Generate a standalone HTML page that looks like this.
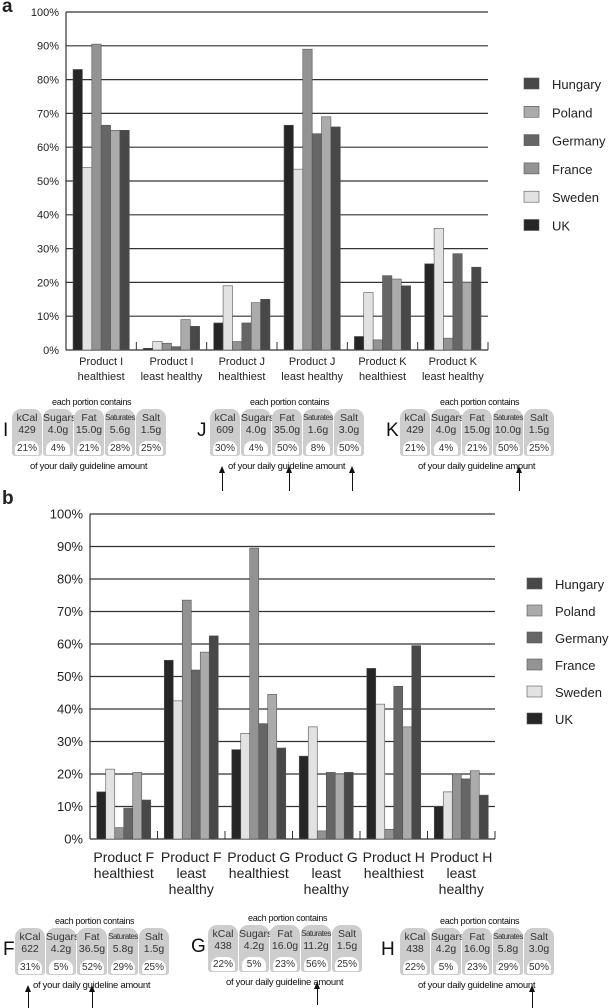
<!DOCTYPE html>
<html><head><meta charset="utf-8">
<style>
body{margin:0;width:609px;height:993px;background:#fff;font-family:"Liberation Sans",sans-serif;overflow:hidden;position:relative}
svg{position:absolute;left:0;top:0}
.lab{position:absolute;font-family:"Liberation Sans",sans-serif;color:#222}
.cell{position:absolute;background:#cdcdcd;border-radius:9px 9px 3px 3px;text-align:center;font-size:10.5px;line-height:12px;color:#333}
.pct{position:absolute;left:3px;right:3px;bottom:1px;height:14px;background:#fff;border-radius:8px 8px 2px 2px;font-size:10px;line-height:15px}
.cap{position:absolute;font-size:9px;color:#111;letter-spacing:-0.3px;white-space:nowrap}
.big{position:absolute;font-size:19px;color:#111}
.arrow{position:absolute;width:1px;background:#111}
.arrow:before{content:"";position:absolute;left:-3px;top:-5px;border-left:3.5px solid transparent;border-right:3.5px solid transparent;border-bottom:7px solid #111}
</style></head><body>
<div class="lab" style="left:2px;top:-4px;font-size:19px;font-weight:bold">a</div>
<div class="lab" style="left:2px;top:488px;font-size:19px;font-weight:bold">b</div>
<svg id="chart" width="609" height="993"></svg>
<div id="labels"></div>
<script>
const seriesNames=["UK","Sweden","France","Germany","Poland","Hungary"];
const seriesColors=["#262626","#e2e2e2","#939393","#666666","#ababab","#484848"];
const legendOrder=["Hungary","Poland","Germany","France","Sweden","UK"];
const catsA=[["Product I","healthiest"],["Product I","least healthy"],["Product J","healthiest"],["Product J","least healthy"],["Product K","healthiest"],["Product K","least healthy"]];
const uk_A=[83,0.5,8,66.5,4,25.5];
const sweden_A=[54,2.5,19,53.5,17,36];
const france_A=[90.5,2,2.5,89,3,3.5];
const germany_A=[66.5,1,8,64,22,28.5];
const poland_A=[65,9,14,69,21,20];
const hungary_A=[65,7,15,66,19,24.5];
const catsB=[["Product F","healthiest"],["Product F","least","healthy"],["Product G","healthiest"],["Product G","least","healthy"],["Product H","healthiest"],["Product H","least","healthy"]];
const uk_B=[14.5,55,27.5,25.5,52.5,10];
const sweden_B=[21.5,42.5,32.5,34.5,41.5,14.5];
const france_B=[3.5,73.5,89.5,2.5,3,20];
const germany_B=[9.5,52,35.5,20.5,47,18.5];
const poland_B=[20.5,57.5,44.5,20,34.5,21];
const hungary_B=[12,62.5,28,20.5,59.5,13.5];
const ticks=[0,10,20,30,40,50,60,70,80,90,100];

const NS="http://www.w3.org/2000/svg";
const svg=document.getElementById("chart");
function mk(tag,attrs,parent){const e=document.createElementNS(NS,tag);for(const k in attrs)e.setAttribute(k,attrs[k]);(parent||svg).appendChild(e);return e;}

function drawChart(cfg){
  const {x0,x1,y0,y1,cats,series,fs,xfs,tickX,labY,lineH,legX,legY,legStep,legFs,prefix}=cfg;
  const g=mk("g",{});
  
  
  const ys=v=>y0-(v/100)*(y0-y1);
  const gw=(x1-x0)/cats.length;
  const pad=gw*0.1, bw=(gw-2*pad)/6;
  ticks.forEach(t=>{
    const l=mk("line",{x1:x0,x2:x1,y1:ys(t),y2:ys(t),stroke:"#333","stroke-width":1.2},g);
    
    
    const tx=mk("text",{x:tickX,y:ys(t)+fs*0.35,"text-anchor":"end","font-size":fs,fill:"#222","font-family":"Liberation Sans"},g);
    tx.textContent=t+"%";
    
    
  });
  const ax=mk("line",{x1:x0,x2:x0,y1:y1,y2:y0,stroke:"#333","stroke-width":1.2},g);
  
  
  for(let i=1;i<=cats.length;i++){
    const t=mk("line",{x1:x0+i*gw,x2:x0+i*gw,y1:y0,y2:y0-8,stroke:"#333","stroke-width":1},g);
    
    
  }
  cats.forEach((c,ci)=>{
    series.forEach((s,si)=>{
      const v=s[ci];
      const r=mk("rect",{x:x0+ci*gw+pad+si*bw,y:ys(v),width:bw,height:y0-ys(v),fill:seriesColors[si],stroke:"#555","stroke-width":0.6},g);
      
      
    });
    c.forEach((line,li)=>{
      const t=mk("text",{x:x0+ci*gw+gw/2,y:labY+li*lineH,"text-anchor":"middle","font-size":xfs,fill:"#222","font-family":"Liberation Sans"},g);
      t.textContent=line;
      
      
    });
  });
  legendOrder.forEach((n,i)=>{
    const si=seriesNames.indexOf(n);
    const r=mk("rect",{x:legX,y:legY+i*legStep-6,width:15,height:11,fill:seriesColors[si],stroke:"#555","stroke-width":0.6},g);
    
    
    const t=mk("text",{x:legX+28,y:legY+i*legStep+5,"font-size":legFs,fill:"#222","font-family":"Liberation Sans"},g);
    t.textContent=n;
    
    
  });
}
drawChart({x0:66,x1:488,y0:350,y1:12,cats:catsA,series:[uk_A,sweden_A,france_A,germany_A,poland_A,hungary_A],fs:11,xfs:11,tickX:59,labY:365,lineH:15,legX:524,legY:84,legStep:28.3,legFs:13,prefix:"a"});
drawChart({x0:90,x1:495,y0:839,y1:514,cats:catsB,series:[uk_B,sweden_B,france_B,germany_B,poland_B,hungary_B],fs:13,xfs:14,tickX:83,labY:862,lineH:16,legX:527,legY:584,legStep:27,legFs:13,prefix:"b"});

const labelLetters=["I","J","K","F","G","H"];
const labelVals=[["429","4.0g","15.0g","5.6g","1.5g"],["609","4.0g","35.0g","1.6g","3.0g"],["429","4.0g","15.0g","10.0g","1.5g"],["622","4.2g","36.5g","5.8g","1.5g"],["438","4.2g","16.0g","11.2g","1.5g"],["438","4.2g","16.0g","5.8g","3.0g"]];
const labelPcts=[["21%","4%","21%","28%","25%"],["30%","4%","50%","8%","50%"],["21%","4%","21%","50%","25%"],["31%","5%","52%","29%","25%"],["22%","5%","23%","56%","25%"],["22%","5%","23%","29%","50%"]];
const heads=["kCal","Sugars","Fat","Saturates","Salt"];
const boxX=[12,210,400,15,208,400];
const boxY=[409,409,409,928,925,928];
const letterX=[3,197,386,3,191,381];
const arrows=[[],[222,289,352],[519],[28,92],[317],[532]];
const L=document.getElementById("labels");
function div(cls,style,txt,name){const d=document.createElement("div");d.className=cls;d.style.cssText=style;if(txt!==undefined)d.textContent=txt;L.appendChild(d);return d;}
labelLetters.forEach((let_,i)=>{
  const x=boxX[i],y=boxY[i];
  div("big",`left:${letterX[i]}px;top:${y+11}px`,let_,"label-letter-"+let_);
  div("cap",`left:${x+40}px;top:${y-12}px`,"each portion contains","portion-caption-"+let_);
  heads.forEach((h,j)=>{
    const c=div("cell",`left:${x+j*31}px;top:${y}px;width:30px;height:47px`,undefined,"nutrient-"+h.toLowerCase()+"-"+let_);
    const a=document.createElement("div");a.style.cssText="padding-top:3px;"+(h==="Saturates"?"font-size:8px;letter-spacing:-0.5px":"");a.textContent=h;c.appendChild(a);
    const b=document.createElement("div");b.textContent=labelVals[i][j];c.appendChild(b);
    const p=document.createElement("div");p.className="pct";p.textContent=labelPcts[i][j];c.appendChild(p);
  });
  div("cap",`left:${x+18}px;top:${y+52}px;font-size:9.5px`,"of your daily guideline amount","guideline-caption-"+let_);
  arrows[i].forEach(ax=>{div("arrow",`left:${ax}px;top:${y+62}px;height:${i<3?20:18}px`,undefined,"arrow-"+let_);});
});
</script>
</body></html>
